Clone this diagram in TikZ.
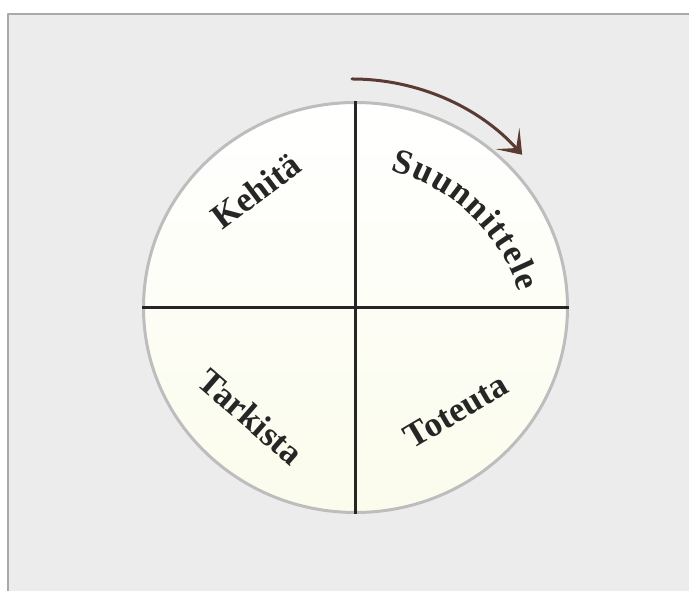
\documentclass[tikz,border=0pt]{standalone}
\usepackage{fontspec}
\setmainfont{Liberation Serif}
\usepackage{tikz}
\usetikzlibrary{arrows.meta,shapes.geometric,decorations.text}
\definecolor{paper}{HTML}{ECECEC}
\definecolor{frame}{HTML}{A9A9A9}
\definecolor{rim}{HTML}{BDBDBD}
\definecolor{cream}{HTML}{FBFCEC}
\definecolor{ink}{HTML}{262626}
\definecolor{brown}{HTML}{5A3A32}
\tikzset{
  every picture/.style={line join=round, line cap=round},
  word/.style={font=\fontsize{35}{35}\selectfont\bfseries, text=ink, inner sep=0pt},
  cross/.style={line width=2.6pt, ink, line cap=butt},
}

\begin{document}
\begin{tikzpicture}[x=1pt, y=1pt]
    % Page and frame
    \useasboundingbox (0,0) rectangle (689,591);
    \fill[white] (0,0) rectangle (689,591);
    \draw[fill=paper, draw=frame, line width=2.5pt] (8,-10) rectangle (700,577);

    % Wheel
    \node[ellipse, draw=rim, line width=3pt, top color=white, bottom color=cream,
          minimum width=424pt, minimum height=410pt, inner sep=0pt] (wheel) at (355.5,283.5) {};
    \draw[cross] (wheel.north) -- (wheel.south);
    \draw[cross] (wheel.west) -- (wheel.east);

    % Turning arrow
    \coordinate (arrowstart) at (352,512);
    \draw[brown, line width=3pt, -{Stealth[length=22pt, width=32pt, inset=13pt]}]
        (arrowstart) arc[start angle=90, end angle=42, radius=229];

    % Phase labels
    \node[word, rotate=37] (kehita) at (256,400) {Kehitä};
    \node[word, rotate=-41] (tarkista) at (251,174) {Tarkista};
    \node[word, rotate=30.5] (toteuta) at (456,180) {Toteuta};
    \path[decorate, decoration={text along path, text align=fit to path,
          text={|\fontsize{35}{35}\selectfont\bfseries\color{ink}|Suunnittele}}]
        (343,242) ++(75:185) arc[start angle=75, end angle=18, radius=185];
\end{tikzpicture}
\end{document}
